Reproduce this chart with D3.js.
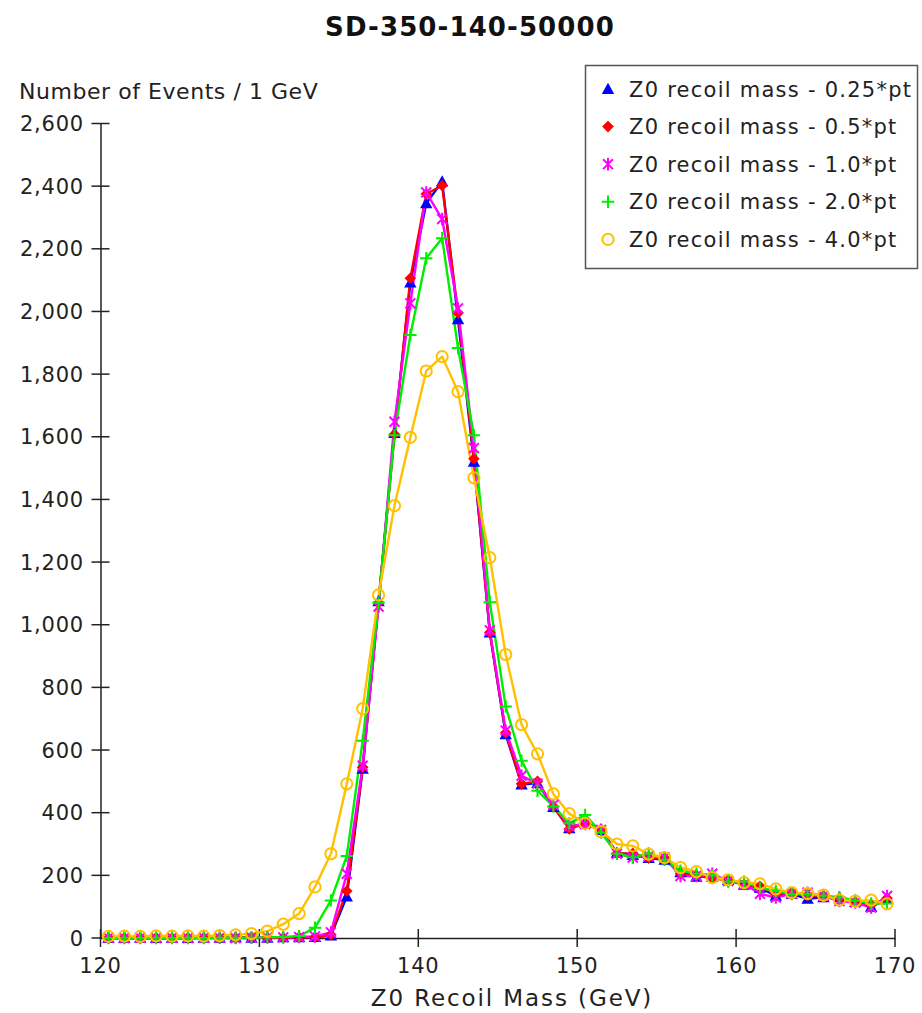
<!DOCTYPE html>
<html>
<head>
<meta charset="utf-8">
<script src="https://cdn.jsdelivr.net/npm/d3@7"></script>
<style>
  body { margin: 0; background: #fff; }
  svg { font-family: "DejaVu Sans", sans-serif; }
  .tick-label { font-size: 21px; fill: #222; letter-spacing: 0.8px; }
  .axis-title { font-size: 22px; fill: #222; }
  .y-title { letter-spacing: 0.55px; }
  .x-title { font-size: 23px; letter-spacing: 1.9px; }
  .chart-title { font-size: 26px; font-weight: bold; fill: #111; letter-spacing: 1.1px; }
  .legend-text { font-size: 21px; fill: #222; letter-spacing: 1.25px; }
</style>
</head>
<body>
<div id="chart"></div>
<script>
// Data (bin centres, 1 GeV bins)
const massBins = [120.5, 121.5, 122.5, 123.5, 124.5, 125.5, 126.5, 127.5, 128.5, 129.5,
    130.5, 131.5, 132.5, 133.5, 134.5, 135.5, 136.5, 137.5, 138.5, 139.5,
    140.5, 141.5, 142.5, 143.5, 144.5, 145.5, 146.5, 147.5, 148.5, 149.5,
    150.5, 151.5, 152.5, 153.5, 154.5, 155.5, 156.5, 157.5, 158.5, 159.5,
    160.5, 161.5, 162.5, 163.5, 164.5, 165.5, 166.5, 167.5, 168.5, 169.5];

const pt025 = [0, 0, 1, 0, 1, 0, 1, 1, 2, 1,
    1, 2, 2, 3, 8, 132, 540, 1075, 1612, 2092,
    2345, 2415, 1975, 1520, 975, 650, 490, 495, 418, 350,
    368, 345, 272, 265, 255, 250, 210, 195, 195, 185,
    170, 160, 135, 140, 125, 130, 130, 115, 100, 125];

const pt05 = [0, 1, 0, 1, 0, 1, 1, 0, 1, 2,
    1, 1, 2, 3, 10, 150, 545, 1070, 1608, 2106,
    2375, 2402, 1995, 1530, 975, 655, 492, 500, 420, 348,
    365, 348, 270, 270, 255, 255, 205, 200, 190, 185,
    170, 165, 140, 145, 135, 135, 125, 115, 105, 127];

const pt10 = [1, 0, 1, 0, 1, 0, 1, 1, 0, 1,
    2, 2, 3, 5, 18, 205, 550, 1058, 1648, 2026,
    2380, 2295, 2010, 1564, 982, 662, 518, 493, 425, 358,
    364, 345, 269, 257, 262, 257, 198, 198, 205, 182,
    173, 141, 129, 141, 145, 134, 118, 113, 97, 134];

const pt20 = [0, 1, 0, 1, 0, 1, 0, 1, 1, 1,
    2, 3, 6, 33, 120, 262, 630, 1070, 1605, 1925,
    2170, 2234, 1883, 1605, 1072, 739, 566, 470, 420, 366,
    393, 337, 269, 258, 270, 250, 215, 205, 200, 180,
    180, 160, 150, 140, 140, 135, 130, 120, 110, 110];

const pt40 = [5, 6, 5, 7, 6, 7, 6, 8, 10, 14,
    22, 44, 78, 163, 269, 492, 732, 1095, 1380, 1598,
    1810, 1856, 1744, 1469, 1214, 905, 681, 588, 460, 397,
    366, 340, 300, 294, 268, 257, 225, 212, 193, 186,
    177, 173, 157, 145, 142, 137, 121, 118, 121, 109];

const seriesNames = ["Z0 recoil mass - 0.25*pt", "Z0 recoil mass - 0.5*pt",
    "Z0 recoil mass - 1.0*pt", "Z0 recoil mass - 2.0*pt", "Z0 recoil mass - 4.0*pt"];
const seriesValues = [pt025, pt05, pt10, pt20, pt40];
const seriesColors = ["#0000ff", "#ff0000", "#ff00ff", "#00ee00", "#ffc000"];
const seriesShapes = ["triangle", "diamond", "asterisk", "plus", "circle"];

const xTicks = [120, 130, 140, 150, 160, 170];
const yTicks = [0, 200, 400, 600, 800, 1000, 1200, 1400, 1600, 1800, 2000, 2200, 2400, 2600];

const width = 922, height = 1013;
const plot = { left: 100.5, right: 895, top: 123.5, bottom: 938 };

const svg = d3.select("#chart").append("svg")
    .attr("width", width)
    .attr("height", height);

const x = d3.scaleLinear().domain([120, 170]).range([plot.left, plot.right]);
const y = d3.scaleLinear().domain([0, 2600]).range([plot.bottom, plot.top]);

// Title
svg.append("text")
    .attr("class", "chart-title")
    .attr("x", 470)
    .attr("y", 36)
    .attr("text-anchor", "middle")
    .text("SD-350-140-50000");

// Axes (ticks cross the axis line)
const yAxis = svg.append("g")
    .attr("transform", `translate(${plot.left},0)`)
    .call(d3.axisLeft(y).tickValues(yTicks).tickSize(0).tickFormat(""));
yAxis.select(".domain").attr("stroke", "#222").attr("stroke-width", 1.5);
yAxis.selectAll(".tick line").remove();

const xAxis = svg.append("g")
    .attr("transform", `translate(0,${plot.bottom})`)
    .call(d3.axisBottom(x).tickValues(xTicks).tickSize(0).tickFormat(""));
xAxis.select(".domain").attr("stroke", "#222").attr("stroke-width", 1.5);
xAxis.selectAll(".tick line").remove();

svg.append("g").selectAll("line")
    .data(yTicks)
    .join("line")
    .attr("x1", plot.left - 9).attr("x2", plot.left + 9)
    .attr("y1", (d) => y(d)).attr("y2", (d) => y(d))
    .attr("stroke", "#222").attr("stroke-width", 1.5);

svg.append("g").selectAll("text")
    .data(yTicks)
    .join("text")
    .attr("class", "tick-label")
    .attr("x", 84)
    .attr("y", (d) => y(d))
    .attr("dy", "0.36em")
    .attr("text-anchor", "end")
    .text(d3.format(","));

svg.append("g").selectAll("line")
    .data(xTicks)
    .join("line")
    .attr("x1", (d) => x(d)).attr("x2", (d) => x(d))
    .attr("y1", plot.bottom - 9).attr("y2", plot.bottom + 9)
    .attr("stroke", "#222").attr("stroke-width", 1.5);

svg.append("g").selectAll("text")
    .data(xTicks)
    .join("text")
    .attr("class", "tick-label")
    .attr("x", (d) => x(d))
    .attr("y", 973)
    .attr("text-anchor", "middle")
    .text((d) => d);

// Axis titles
svg.append("text")
    .attr("class", "axis-title y-title")
    .attr("x", 19)
    .attr("y", 99)
    .text("Number of Events / 1 GeV");

svg.append("text")
    .attr("class", "axis-title x-title")
    .attr("x", 512)
    .attr("y", 1006)
    .attr("text-anchor", "middle")
    .text("Z0 Recoil Mass (GeV)");

// Marker shapes
function shapePath(kind, s) {
    switch (kind) {
        case "triangle": return `M0,${-s}L${s},${s * 0.8}L${-s},${s * 0.8}Z`;
        case "diamond": return `M0,${-s}L${s},0L0,${s}L${-s},0Z`;
        case "asterisk": {
            const d = s * 0.8;
            return `M0,${-s}V${s}M${-d},${-d}L${d},${d}M${-d},${d}L${d},${-d}`;
        }
        case "plus": return `M0,${-s}V${s}M${-s},0H${s}`;
        default: return "";
    }
}

function drawMarker(g, kind, color, cx, cy) {
    if (kind === "circle") {
        g.append("circle")
            .attr("cx", cx).attr("cy", cy).attr("r", 5.6)
            .attr("fill", "none").attr("stroke", color).attr("stroke-width", 2);
        return;
    }
    const filled = kind === "triangle" || kind === "diamond";
    g.append("path")
        .attr("transform", `translate(${cx},${cy})`)
        .attr("d", shapePath(kind, kind === "diamond" ? 5.8 : 6.2))
        .attr("fill", filled ? color : "none")
        .attr("stroke", color)
        .attr("stroke-width", filled ? 0 : 2);
}

// Lines first, then markers
const line = d3.line()
    .x((d, i) => x(massBins[i]))
    .y((d) => y(d));

const linesG = svg.append("g");
seriesValues.forEach((vals, s) => {
    linesG.append("path")
        .datum(vals)
        .attr("d", line)
        .attr("fill", "none")
        .attr("stroke", seriesColors[s])
        .attr("stroke-width", 2.4)
        .attr("stroke-linejoin", "round");
});

const markersG = svg.append("g");
seriesValues.forEach((vals, s) => {
    vals.forEach((v, i) => drawMarker(markersG, seriesShapes[s], seriesColors[s], x(massBins[i]), y(v)));
});

// Legend
const legend = svg.append("g");
legend.append("rect")
    .attr("x", 585.5).attr("y", 65.5)
    .attr("width", 332).attr("height", 203)
    .attr("fill", "#fff")
    .attr("stroke", "#555")
    .attr("stroke-width", 1.5);

seriesNames.forEach((name, s) => {
    const cy = 89 + s * 37.6;
    drawMarker(legend, seriesShapes[s], seriesColors[s], 608, cy);
    legend.append("text")
        .attr("class", "legend-text")
        .attr("x", 629)
        .attr("y", cy)
        .attr("dy", "0.36em")
        .text(name);
});
</script>
</body>
</html>
